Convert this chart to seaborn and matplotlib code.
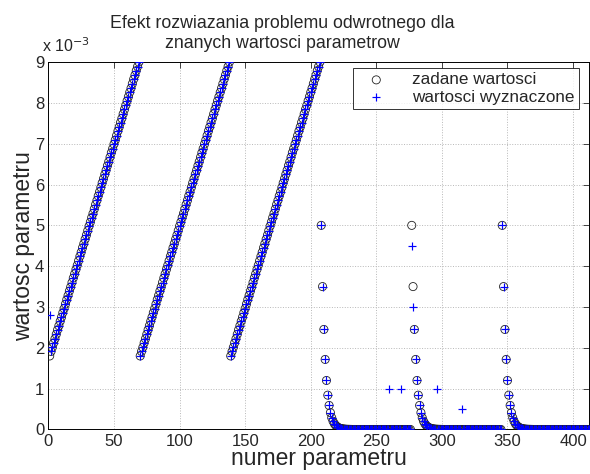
import numpy as np
import pandas as pd
import matplotlib
matplotlib.use("Agg")
import matplotlib.pyplot as plt
import seaborn as sns

# ---------- data (values in units of 1e-3) ---------- #

# one linear ramp of 69 parameters, repeated three times
ramp_values = [1.80, 1.91, 2.01, 2.12, 2.22, 2.33, 2.44, 2.54, 2.65, 2.75,
               2.86, 2.96, 3.07, 3.18, 3.28, 3.39, 3.49, 3.60, 3.71, 3.81,
               3.92, 4.02, 4.13, 4.24, 4.34, 4.45, 4.55, 4.66, 4.76, 4.87,
               4.98, 5.08, 5.19, 5.29, 5.40, 5.51, 5.61, 5.72, 5.82, 5.93,
               6.04, 6.14, 6.25, 6.35, 6.46, 6.56, 6.67, 6.78, 6.88, 6.99,
               7.09, 7.20, 7.31, 7.41, 7.52, 7.62, 7.73, 7.84, 7.94, 8.05,
               8.15, 8.26, 8.36, 8.47, 8.58, 8.68, 8.79, 8.89, 9.00]

# one decaying block of 69 parameters, repeated three times
decay_values = [5.0, 3.5, 2.45, 1.715, 1.2, 0.84, 0.588, 0.412, 0.288, 0.202,
                0.141, 0.099, 0.069, 0.048, 0.034, 0.024, 0.017, 0.012, 0.008,
                0.006, 0.004, 0.003, 0.002, 0.001] + [0.0] * 45

# estimated values that differ from the given ones: parameter number -> value
estimate_diffs = {1: 2.8, 260: 1.0, 269: 1.0, 277: 4.5, 278: 3.0, 296: 1.0, 315: 0.5}

title_lines = ["Efekt rozwiazania problemu odwrotnego dla",
               "znanych wartosci parametrow"]
x_ticks = [0, 50, 100, 150, 200, 250, 300, 350, 400]
y_ticks = [0, 1, 2, 3, 4, 5, 6, 7, 8, 9]

# ---------- build table ---------- #

given = ramp_values * 3 + decay_values * 3
numer = list(range(1, len(given) + 1))
estimated = list(given)
for k, v in estimate_diffs.items():
    estimated[k - 1] = v

df = pd.DataFrame({"numer": numer, "zadane": given, "wyznaczone": estimated})

# ---------- plot ---------- #

sns.set_style("white")
plt.rcParams["font.family"] = ["Liberation Sans", "DejaVu Sans"]

fig = plt.figure(figsize=(5.9, 4.74), dpi=100)
ax = fig.add_axes([0.082, 0.094, 0.916, 0.775])

sns.scatterplot(data=df, x="numer", y="zadane", ax=ax, marker="o",
                facecolors="none", edgecolor="#222222", s=34, linewidth=0.6,
                label="zadane wartosci", zorder=3)
sns.scatterplot(data=df, x="numer", y="wyznaczone", ax=ax, marker="+",
                color="blue", edgecolor="blue", s=38, linewidth=0.85,
                label="wartosci wyznaczone", zorder=4)

ax.set_xlim(0, 412)
ax.set_ylim(0, 9)
ax.set_xticks(x_ticks)
ax.set_yticks(y_ticks)
ax.tick_params(direction="in", length=4, width=0.6, labelsize=12,
               top=True, right=True, pad=3)
for s in ax.spines.values():
    s.set_linewidth(0.7)
    s.set_color("black")
ax.grid(True, linestyle=":", color="#b8b8b8", linewidth=0.7)
ax.set_axisbelow(True)

ax.set_xlabel("numer parametru", fontsize=16.5, labelpad=-1)
ax.set_ylabel("wartosc parametru", fontsize=16.5, labelpad=0)

fig.text(0.478, 0.968, title_lines[0], ha="center", va="top", fontsize=12.8)
fig.text(0.478, 0.927, title_lines[1], ha="center", va="top", fontsize=12.8)
fig.text(0.071, 0.89, "x 10$^{-3}$", ha="left", va="baseline", fontsize=11.5)

leg = ax.legend(loc="upper right", bbox_to_anchor=(0.988, 0.993), fontsize=12.3,
                frameon=True, fancybox=False, borderpad=0.25, handletextpad=1.0,
                labelspacing=0.15, handlelength=2.2, borderaxespad=0.2)
leg.get_frame().set_edgecolor("black")
leg.get_frame().set_linewidth(0.7)

fig.savefig("out.png", dpi=100)
